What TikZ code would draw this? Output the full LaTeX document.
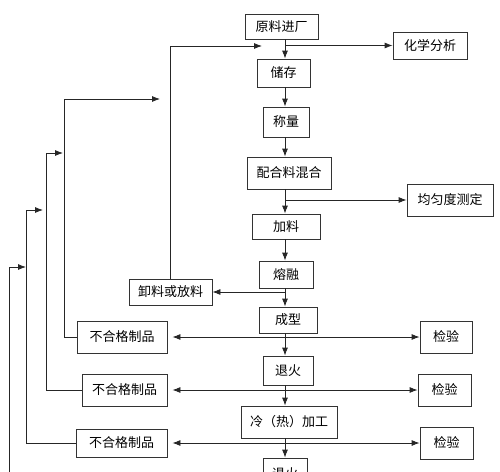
\documentclass[tikz,border=0pt]{standalone}
\usepackage{fontspec}
\setmainfont{Noto Sans CJK SC}
\usetikzlibrary{calc, arrows.meta}
\tikzset{
	myblocktext/.style={rectangle, draw=black!80, line width=0.8pt, inner sep=0pt,
				text centered, align=center,
				font=\fontsize{13}{15}\selectfont, text=black
				},
	myarrow/.style={-{Latex[length=8pt, width=6pt]}, black!85, line width=0.8pt
				},
	myarrowboth/.style={{Latex[length=8pt, width=6pt]}-{Latex[length=8pt, width=6pt]}, black!85, line width=0.8pt
				}
	}

\begin{document}
\begin{tikzpicture}[x=1pt, y=-1pt]

				\clip (0,0) rectangle (500,471);

				\coordinate (spine) at (285,0);

				% main column
				\node[myblocktext, minimum width=73pt, minimum height=25pt] (raw) at (281.5,26.5) {原料进厂};

				\node[myblocktext, minimum width=53pt, minimum height=28pt] (store) at (283.5,73) {储存};

				\node[myblocktext, minimum width=46pt, minimum height=30pt] (weigh) at (286,122) {称量};

				\node[myblocktext, minimum width=84pt, minimum height=32pt] (mix) at (289,173) {配合料混合};

				\node[myblocktext, minimum width=68pt, minimum height=25pt] (feed) at (286,226.5) {加料};

				\node[myblocktext, minimum width=54pt, minimum height=27pt] (melt) at (286,274.5) {熔融};

				\node[myblocktext, minimum width=58pt, minimum height=26pt] (form) at (288,320) {成型};

				\node[myblocktext, minimum width=50pt, minimum height=29pt] (annealA) at (288,370.5) {退火};

				\node[myblocktext, minimum width=96pt, minimum height=32pt] (work) at (289,422) {冷（热）加工};

				\node[myblocktext, minimum width=44pt, minimum height=32pt] (annealB) at (285,474) {退火};

				% side boxes
				\node[myblocktext, minimum width=74pt, minimum height=27pt] (chem) at (430,45.5) {化学分析};

				\node[myblocktext, minimum width=86pt, minimum height=32pt] (homog) at (450,200) {均匀度测定};

				\node[myblocktext, minimum width=83pt, minimum height=26pt] (unload) at (170.5,292) {卸料或放料};

				\node[myblocktext, minimum width=52pt, minimum height=32pt] (checkA) at (446,337) {检验};
				\node[myblocktext, minimum width=90pt, minimum height=32pt] (rejectA) at (122,337) {不合格制品};

				\node[myblocktext, minimum width=53pt, minimum height=32pt] (checkB) at (444.5,390) {检验};
				\node[myblocktext, minimum width=85pt, minimum height=32pt] (rejectB) at (124.5,390) {不合格制品};

				\node[myblocktext, minimum width=53pt, minimum height=32pt] (checkC) at (446.5,443) {检验};
				\node[myblocktext, minimum width=91pt, minimum height=28pt] (rejectC) at (121.5,443) {不合格制品};

				% loose ends of the return lines
				\coordinate (fb0) at (262,46);
				\coordinate (fb1) at (160,99);
				\coordinate (fb2) at (63,153);
				\coordinate (fb3) at (43,210);
				\coordinate (fb4) at (26,267);
				\coordinate (lp4) at (9,480);

				% spine arrows
				\draw[myarrow] (raw.south -| spine) -- (store.north -| spine);
				\draw[myarrow] (store.south -| spine) -- (weigh.north -| spine);
				\draw[myarrow] (weigh.south -| spine) -- (mix.north -| spine);
				\draw[myarrow] (mix.south -| spine) -- (feed.north -| spine);
				\draw[myarrow] (feed.south -| spine) -- (melt.north -| spine);
				\draw[myarrow] (melt.south -| spine) -- (form.north -| spine);
				\draw[myarrow] (form.south -| spine) -- (annealA.north -| spine);
				\draw[myarrow] (annealA.south -| spine) -- (work.north -| spine);
				\draw[myarrow] (work.south -| spine) -- (annealB.north -| spine);

				% branches
				\draw[myarrow] (chem.west -| spine) -- (chem.west);
				\draw[myarrow] (homog.west -| spine) -- (homog.west);
				\draw[myarrow] (unload.east -| spine) -- (unload.east);

				\draw[myarrowboth, shorten <=5pt] (rejectA.east) -- (checkA.west);
				\draw[myarrowboth, shorten <=5pt] (rejectB.east) -- (checkB.west);
				\draw[myarrowboth, shorten <=5pt] (rejectC.east) -- (checkC.west);

				% return lines
				\draw[myarrow] (unload.north) |- (fb0);
				\draw[myarrow] (rejectA.west) -- ++(-12,0) |- (fb1);
				\draw[myarrow] (rejectB.west) -- ++(-35,0) |- (fb2);
				\draw[myarrow] (rejectC.west) -- ++(-49,0) |- (fb3);
				\draw[myarrow] (lp4) |- (fb4);

\end{tikzpicture}
\end{document}
